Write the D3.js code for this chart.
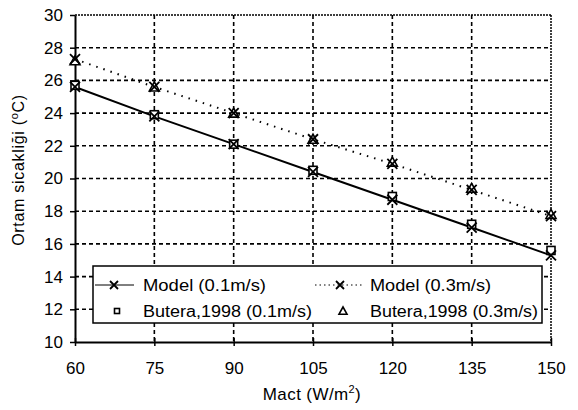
<!DOCTYPE html>
<html>
<head>
<meta charset="utf-8">
<title>Ortam sicakligi</title>
<style>
body { margin: 0; background: #fff; }
text { font-family: Arial, "Liberation Sans", sans-serif; fill: #000; }
</style>
<script src="https://d3js.org/d3.v7.min.js"></script>
</head>
<body>
<svg id="chart" width="578" height="410"></svg>
<script>
const xValues = [60, 75, 90, 105, 120, 135, 150];
const model01 = [25.6, 23.8, 22.1, 20.4, 18.7, 17.0, 15.3];
const model03 = [27.3, 25.6, 24.0, 22.4, 20.9, 19.3, 17.7];
const butera01 = [25.7, 23.9, 22.1, 20.5, 18.9, 17.2, 15.6];
const butera03 = [27.2, 25.6, 24.0, 22.4, 21.0, 19.4, 17.8];
const yTicks = [10, 12, 14, 16, 18, 20, 22, 24, 26, 28, 30];

const svg = d3.select("#chart");
const L = 75, R = 551, T = 15, B = 342;

const x = d3.scaleLinear().domain([60, 150]).range([L, R]);
const y = d3.scaleLinear().domain([10, 30]).range([B, T]);

// grid
svg.append("g").selectAll("line").data(yTicks.slice(1, -1)).join("line")
   .attr("x1", L).attr("x2", R).attr("y1", d => y(d)).attr("y2", d => y(d))
   .attr("stroke", "#000").attr("stroke-width", 1.6).attr("stroke-dasharray", "4,3");
svg.append("g").selectAll("line").data(xValues.slice(1, -1)).join("line")
   .attr("y1", T).attr("y2", B).attr("x1", d => x(d)).attr("x2", d => x(d))
   .attr("stroke", "#000").attr("stroke-width", 1.6).attr("stroke-dasharray", "4,3");

// top and right border
svg.append("line").attr("x1", L).attr("x2", R).attr("y1", T).attr("y2", T)
   .attr("stroke", "#000").attr("stroke-width", 1.5).attr("stroke-dasharray", "2,1");
svg.append("line").attr("x1", R).attr("x2", R).attr("y1", T).attr("y2", B)
   .attr("stroke", "#000").attr("stroke-width", 1.5).attr("stroke-dasharray", "2,1");

// axes
const xAxis = d3.axisBottom(x).tickValues(xValues).tickSize(5).tickSizeOuter(0).tickPadding(15);
const yAxis = d3.axisLeft(y).tickValues(yTicks).tickSize(5).tickSizeOuter(0).tickPadding(7);
const gx = svg.append("g").attr("transform", `translate(0,${B})`).call(xAxis);
const gy = svg.append("g").attr("transform", `translate(${L},0)`).call(yAxis);
gx.selectAll(".tick line").attr("y1", -4).attr("y2", 4);
[gx, gy].forEach(g => {
  g.select(".domain").attr("stroke-width", 2);
  g.selectAll(".tick line").attr("stroke-width", 1.5);
  g.selectAll("text").style("font-size", "17px").style("font-family", "Arial, 'Liberation Sans', sans-serif");
});

// lines
const pts = vals => vals.map((v, i) => [xValues[i], v]);
const line = d3.line().x(d => x(d[0])).y(d => y(d[1]));
svg.append("path").attr("d", line(pts(model01))).attr("fill", "none")
   .attr("stroke", "#000").attr("stroke-width", 2);
svg.append("path").attr("d", line(pts(model03))).attr("fill", "none")
   .attr("stroke", "#000").attr("stroke-width", 2).attr("stroke-dasharray", "1.5,6");

// markers
function cross(g, cx, cy, s) {
  g.append("path").attr("d", `M${cx - s},${cy - s}L${cx + s},${cy + s}M${cx - s},${cy + s}L${cx + s},${cy - s}`)
   .attr("stroke", "#000").attr("stroke-width", 1.8);
}
function square(g, cx, cy, s) {
  g.append("rect").attr("x", cx - s).attr("y", cy - s).attr("width", 2 * s).attr("height", 2 * s)
   .attr("fill", "#fff").attr("stroke", "#000").attr("stroke-width", 1.6);
}
function tri(g, cx, cy, s) {
  g.append("path").attr("d", `M${cx},${cy - s}L${cx + s},${cy + s * 0.8}L${cx - s},${cy + s * 0.8}Z`)
   .attr("fill", "#fff").attr("stroke", "#000").attr("stroke-width", 1.6);
}
const mk = svg.append("g");
xValues.forEach((xv, i) => {
  square(mk, x(xv), y(butera01[i]), 4);
  tri(mk, x(xv), y(butera03[i]), 5);
  cross(mk, x(xv), y(model01[i]), 5);
  cross(mk, x(xv), y(model03[i]), 5);
});

// legend
const lg = svg.append("g");
lg.append("rect").attr("x", 93).attr("y", 266).attr("width", 449).attr("height", 57)
  .attr("fill", "#fff").attr("stroke", "#000").attr("stroke-width", 1.5);
function legText(tx, ty, s, w) {
  lg.append("text").attr("x", tx).attr("y", ty).style("font-size", "16px")
    .attr("textLength", w).attr("lengthAdjust", "spacingAndGlyphs").text(s);
}
lg.append("line").attr("x1", 95).attr("x2", 134).attr("y1", 285).attr("y2", 285)
  .attr("stroke", "#000").attr("stroke-width", 1);
cross(lg, 114, 285, 4);
legText(143, 291, "Model (0.1m/s)", 123);
lg.append("line").attr("x1", 315).attr("x2", 364).attr("y1", 285).attr("y2", 285)
  .attr("stroke", "#000").attr("stroke-width", 1).attr("stroke-dasharray", "1.5,3");
cross(lg, 340, 285, 4);
legText(370, 291, "Model (0.3m/s)", 121);
square(lg, 117, 311, 2.5);
legText(143, 317, "Butera,1998  (0.1m/s)", 169);
tri(lg, 343, 311, 4);
legText(370, 317, "Butera,1998 (0.3m/s)", 168);

// axis titles
const xt = svg.append("text").attr("x", 312).attr("y", 400).attr("text-anchor", "middle")
  .style("font-size", "17px").style("letter-spacing", "0.4px");
xt.append("tspan").text("Mact (W/m");
xt.append("tspan").attr("dy", -7).style("font-size", "11px").text("2");
xt.append("tspan").attr("dy", 7).text(")");
const yt = svg.append("text").attr("transform", `translate(24,170) rotate(-90)`)
  .attr("text-anchor", "middle").style("font-size", "16px").style("letter-spacing", "0.7px");
yt.append("tspan").text("Ortam sicakliği (");
yt.append("tspan").attr("dy", -6).style("font-size", "11px").text("o");
yt.append("tspan").attr("dy", 6).text("C)");
</script>
</body>
</html>
